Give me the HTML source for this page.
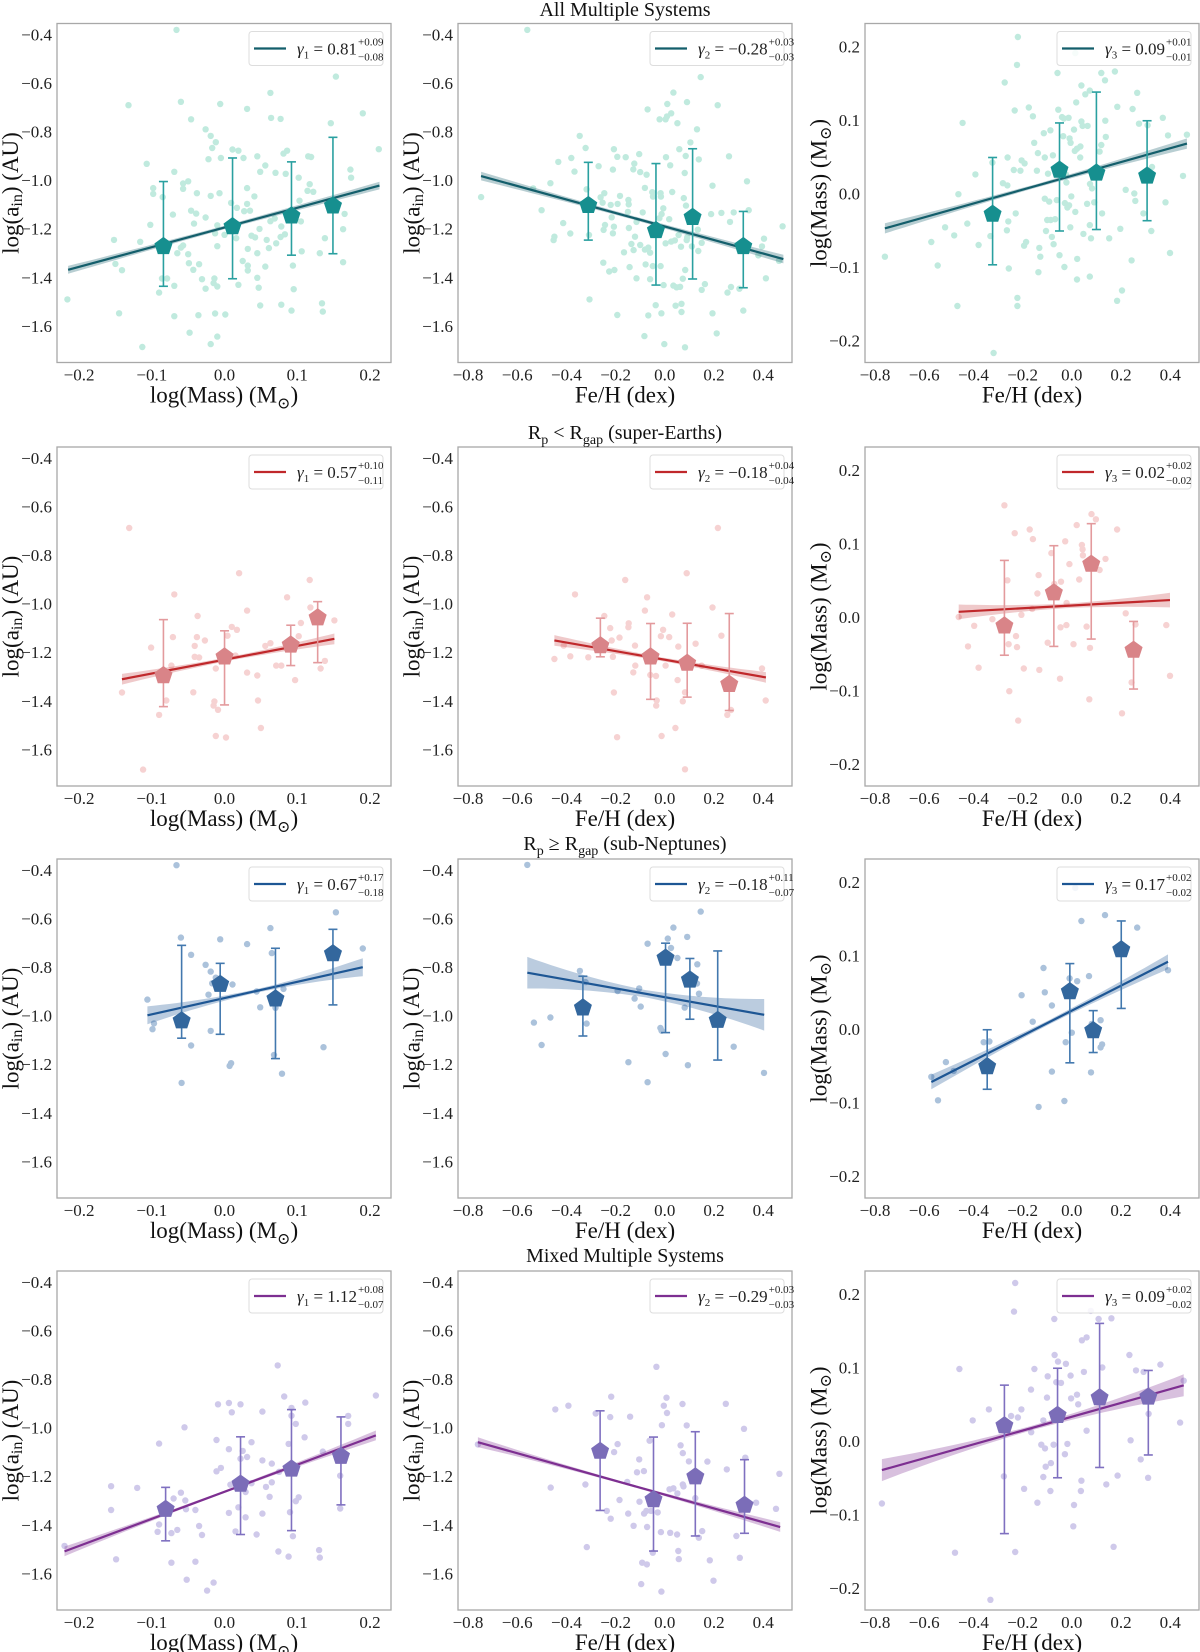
<!DOCTYPE html>
<html><head><meta charset="utf-8"><style>
html,body{margin:0;padding:0;background:#fff;}
svg{display:block;font-family:"Liberation Serif","DejaVu Serif",serif;}
svg text{font-family:"Liberation Serif","DejaVu Serif",serif;}
</style></head><body>
<svg id="fig" width="1200" height="1652" viewBox="0 0 1200 1652" xmlns="http://www.w3.org/2000/svg"></svg>
<script>
// ---------- DATA ----------
const pts_r1c1=[[-0.066,-0.382],[-0.132,-0.692],[-0.060,-0.678],[-0.006,-0.687],[0.031,-0.707],[0.063,-0.641],[0.153,-0.574],[0.064,-0.744],[0.077,-0.748],[-0.046,-0.750],[0.146,-0.766],[0.190,-0.725],[-0.026,-0.791],[-0.019,-0.818],[-0.012,-0.844],[-0.017,-0.868],[0.212,-0.873],[-0.107,-0.933],[-0.022,-0.914],[-0.005,-0.909],[0.011,-0.874],[0.019,-0.879],[0.026,-0.909],[0.045,-0.902],[0.056,-0.940],[0.081,-0.891],[0.086,-0.879],[0.115,-0.902],[0.119,-0.905],[0.173,-0.957],[0.174,-0.990],[-0.069,-0.966],[-0.098,-1.033],[-0.098,-1.057],[-0.057,-1.014],[-0.050,-1.005],[-0.057,-1.036],[-0.038,-1.054],[-0.019,-1.065],[-0.007,-1.054],[0.031,-1.033],[0.041,-1.067],[0.049,-0.966],[0.070,-0.970],[0.084,-0.974],[0.102,-0.990],[0.117,-1.017],[0.114,-1.044],[0.122,-1.048],[0.103,-1.085],[-0.085,-1.070],[-0.102,-1.184],[-0.071,-1.142],[-0.046,-1.126],[-0.039,-1.138],[-0.042,-1.179],[-0.026,-1.154],[-0.010,-1.186],[0.009,-1.094],[0.017,-1.114],[0.027,-1.128],[0.035,-1.126],[0.031,-1.098],[0.048,-1.201],[0.063,-1.169],[0.069,-1.158],[0.078,-1.191],[0.105,-1.170],[0.165,-1.139],[0.163,-1.202],[-0.152,-1.246],[-0.116,-1.254],[-0.057,-1.269],[-0.060,-1.278],[-0.065,-1.301],[-0.050,-1.305],[-0.013,-1.219],[-0.010,-1.272],[0.000,-1.225],[0.016,-1.239],[0.037,-1.229],[0.042,-1.236],[0.058,-1.246],[0.061,-1.280],[0.071,-1.260],[0.077,-1.234],[0.083,-1.223],[0.032,-1.283],[0.045,-1.301],[0.131,-1.301],[0.138,-1.239],[0.106,-1.293],[-0.150,-1.345],[-0.141,-1.371],[-0.049,-1.342],[-0.035,-1.346],[-0.043,-1.369],[-0.031,-1.408],[-0.014,-1.405],[-0.015,-1.424],[-0.010,-1.438],[0.025,-1.333],[0.032,-1.352],[0.032,-1.372],[0.056,-1.356],[0.045,-1.402],[0.047,-1.443],[0.094,-1.352],[0.095,-1.449],[0.163,-1.338],[-0.090,-1.463],[-0.086,-1.405],[-0.079,-1.405],[-0.069,-1.435],[0.019,-1.431],[-0.026,-1.447],[-0.216,-1.491],[-0.145,-1.548],[-0.069,-1.560],[-0.036,-1.556],[-0.013,-1.549],[0.001,-1.553],[0.049,-1.516],[0.078,-1.513],[0.092,-1.537],[0.134,-1.507],[0.135,-1.541],[-0.048,-1.628],[-0.010,-1.644],[-0.019,-1.675],[-0.113,-1.687]];
const bin_r1c1=[[-0.084,-1.273,-1.006,-1.437],[0.011,-1.191,-0.909,-1.406],[0.092,-1.147,-0.925,-1.309],[0.149,-1.106,-0.824,-1.303]];
const fit_r1c1=[0.81,-1.195,-0.215,0.213];

const pts_r1c2=[[-0.559,-0.382],[-0.747,-1.070],[-0.535,-1.034],[-0.465,-1.013],[-0.501,-1.124],[-0.433,-0.925],[-0.380,-0.909],[-0.346,-0.818],[-0.322,-0.868],[-0.367,-0.965],[-0.413,-1.177],[-0.449,-1.233],[-0.452,-1.247],[-0.384,-1.220],[-0.318,-1.038],[-0.308,-1.226],[-0.306,-1.491],[-0.269,-0.943],[-0.261,-1.071],[-0.246,-1.054],[-0.253,-1.093],[-0.243,-1.185],[-0.249,-1.205],[-0.220,-1.102],[-0.207,-0.873],[-0.193,-0.904],[-0.211,-0.957],[-0.192,-1.098],[-0.182,-1.065],[-0.216,-1.153],[-0.207,-1.192],[-0.211,-1.219],[-0.250,-1.340],[-0.226,-1.376],[-0.205,-1.370],[-0.193,-1.555],[-0.159,-0.906],[-0.124,-0.932],[-0.128,-0.956],[-0.104,-0.893],[-0.100,-0.967],[-0.074,-0.978],[-0.148,-1.082],[-0.147,-1.100],[-0.150,-1.131],[-0.146,-1.197],[-0.115,-1.172],[-0.121,-1.233],[-0.136,-1.263],[-0.166,-1.297],[-0.127,-1.288],[-0.143,-1.358],[-0.115,-1.404],[-0.090,-1.133],[-0.081,-1.032],[-0.081,-1.286],[-0.100,-1.267],[-0.078,-1.347],[-0.067,-1.278],[-0.060,-1.299],[-0.060,-1.408],[-0.070,-0.709],[-0.021,-0.750],[0.003,-0.750],[0.009,-0.738],[0.026,-0.725],[0.010,-0.687],[0.035,-0.640],[0.051,-0.766],[0.090,-0.679],[0.146,-0.576],[0.215,-0.692],[-0.051,-1.050],[-0.048,-1.068],[-0.017,-1.054],[-0.016,-1.068],[-0.013,-1.140],[-0.022,-1.157],[-0.006,-1.116],[-0.025,-1.211],[0.018,-1.161],[0.030,-1.049],[0.026,-1.253],[0.041,-1.248],[0.056,-1.226],[0.005,-0.906],[0.022,-0.939],[0.059,-0.873],[0.081,-0.971],[0.077,-1.074],[0.086,-1.105],[0.085,-0.901],[0.104,-0.845],[0.131,-0.791],[0.138,-0.915],[0.091,-1.236],[0.089,-1.247],[0.134,-1.204],[0.110,-1.273],[0.150,-1.258],[0.136,-1.292],[0.066,-1.274],[0.003,-1.260],[-0.049,-1.354],[-0.017,-1.354],[-0.005,-1.432],[-0.037,-1.515],[-0.067,-1.557],[-0.014,-1.548],[-0.083,-1.642],[-0.002,-1.675],[0.044,-1.517],[0.068,-1.509],[0.068,-1.543],[0.082,-1.688],[0.035,-1.434],[0.048,-1.441],[0.062,-1.439],[0.073,-1.406],[0.083,-1.370],[0.163,-1.428],[0.150,-1.452],[0.194,-1.548],[0.211,-1.631],[0.194,-1.023],[0.188,-1.140],[0.230,-1.135],[0.261,-0.902],[0.280,-1.133],[0.265,-1.172],[0.255,-1.463],[0.269,-1.440],[0.303,-1.447],[0.319,-1.537],[0.334,-1.005],[0.341,-1.124],[0.380,-1.310],[0.395,-1.273],[0.403,-1.241],[0.411,-1.404],[0.464,-1.332],[0.479,-1.190]];
const bin_r1c2=[[-0.311,-1.104,-0.927,-1.247],[-0.036,-1.207,-0.932,-1.432],[0.113,-1.153,-0.871,-1.407],[0.319,-1.273,-1.129,-1.443]];
const fit_r1c2=[-0.278,-1.191,-0.747,0.482];

const pts_r1c3=[[-0.219,0.213],[-0.223,0.175],[-0.273,0.151],[-0.444,0.096],[-0.232,0.113],[-0.175,0.117],[-0.158,0.105],[-0.058,0.164],[0.014,0.191],[0.120,0.164],[0.135,0.154],[0.175,0.166],[0.039,0.147],[0.055,0.135],[0.073,0.140],[0.018,0.124],[-0.055,0.114],[-0.040,0.104],[-0.013,0.103],[-0.032,0.102],[-0.087,0.086],[-0.114,0.082],[-0.035,0.078],[0.009,0.087],[0.039,0.098],[0.044,0.092],[0.064,0.092],[0.136,0.099],[0.185,0.118],[0.247,0.115],[0.266,0.137],[0.273,0.095],[0.370,0.103],[0.391,0.079],[0.468,0.080],[0.452,0.024],[0.381,-0.012],[0.399,-0.081],[0.243,-0.091],[0.204,-0.132],[0.184,-0.146],[-0.009,0.075],[-0.005,0.069],[0.021,0.061],[0.035,0.064],[0.012,0.058],[0.034,0.049],[0.120,0.066],[0.138,0.077],[0.113,0.057],[-0.153,0.069],[-0.138,0.055],[-0.110,0.049],[-0.077,0.052],[-0.097,0.027],[-0.142,0.031],[-0.204,0.045],[-0.192,0.041],[-0.209,0.031],[-0.236,0.032],[-0.261,0.049],[-0.323,0.042],[-0.392,0.026],[-0.280,0.014],[-0.262,0.011],[-0.461,-0.001],[-0.425,-0.041],[-0.515,-0.046],[-0.571,-0.066],[-0.545,-0.098],[-0.760,-0.086],[-0.478,-0.057],[-0.379,-0.070],[-0.331,-0.058],[-0.264,-0.050],[-0.258,-0.038],[-0.228,-0.027],[-0.194,-0.071],[-0.186,-0.066],[-0.132,-0.074],[-0.128,-0.086],[-0.136,-0.107],[-0.256,-0.102],[-0.221,-0.142],[-0.221,-0.153],[-0.465,-0.153],[-0.318,-0.217],[-0.110,-0.007],[-0.092,-0.011],[-0.061,-0.009],[-0.100,-0.036],[-0.086,-0.036],[-0.068,-0.035],[-0.105,-0.051],[-0.081,-0.059],[-0.074,-0.069],[-0.050,-0.084],[-0.030,-0.100],[-0.028,-0.013],[-0.018,-0.019],[-0.002,-0.004],[-0.011,-0.016],[0.014,-0.025],[0.022,-0.089],[0.021,-0.117],[-0.006,-0.046],[0.047,-0.055],[0.062,-0.014],[0.073,-0.043],[0.078,-0.061],[0.073,-0.113],[0.074,0.013],[0.082,0.007],[0.091,-0.012],[0.123,-0.027],[0.152,-0.061],[0.197,-0.048],[0.219,0.005],[0.254,0.000],[0.258,-0.010],[0.291,-0.027],[0.323,-0.051],[0.326,0.036],[0.308,0.093],[-0.024,0.026],[-0.022,0.015]];
const bin_r1c3=[[-0.322,-0.028,0.049,-0.097],[-0.050,0.032,0.096,-0.051],[0.100,0.028,0.138,-0.049],[0.306,0.024,0.099,-0.037]];
const fit_r1c3=[0.094,0.024,-0.760,0.468];

const pts_r2c1=[[-0.131,-0.689],[0.020,-0.875],[0.117,-0.903],[-0.069,-0.962],[0.086,-0.974],[0.031,-1.029],[-0.037,-1.051],[0.010,-1.096],[0.017,-1.108],[0.004,-1.132],[0.105,-1.080],[0.118,-1.016],[0.151,-1.069],[-0.071,-1.138],[-0.038,-1.138],[-0.027,-1.152],[-0.041,-1.174],[-0.101,-1.181],[-0.041,-1.219],[-0.035,-1.222],[0.056,-1.174],[0.063,-1.163],[0.102,-1.134],[0.015,-1.214],[-0.073,-1.255],[-0.012,-1.267],[0.071,-1.255],[0.078,-1.255],[0.138,-1.236],[0.132,-1.267],[0.031,-1.284],[0.045,-1.296],[0.097,-1.315],[-0.141,-1.366],[-0.043,-1.365],[-0.080,-1.399],[-0.014,-1.403],[-0.015,-1.420],[-0.009,-1.437],[0.046,-1.399],[-0.090,-1.458],[0.050,-1.512],[-0.012,-1.545],[0.002,-1.551],[-0.112,-1.683]];
const bin_r2c1=[[-0.084,-1.296,-1.066,-1.424],[0.000,-1.219,-1.112,-1.417],[0.091,-1.170,-1.089,-1.255],[0.128,-1.058,-0.992,-1.243]];
const fit_r2c1=[0.57,-1.231,-0.141,0.151];

const pts_r2c2=[[0.216,-0.689],[0.089,-0.875],[-0.161,-0.903],[-0.365,-0.962],[-0.072,-0.974],[0.194,-1.016],[-0.081,-1.029],[-0.246,-1.051],[0.030,-1.045],[-0.147,-1.081],[-0.148,-1.097],[-0.222,-1.101],[-0.184,-1.140],[-0.216,-1.152],[-0.007,-1.108],[-0.016,-1.134],[0.018,-1.138],[0.230,-1.132],[0.125,-1.165],[-0.411,-1.173],[-0.121,-1.173],[0.055,-1.177],[-0.449,-1.228],[-0.384,-1.217],[-0.311,-1.221],[-0.211,-1.219],[-0.120,-1.255],[-0.128,-1.283],[0.003,-1.255],[0.150,-1.255],[-0.059,-1.294],[-0.036,-1.298],[0.052,-1.315],[0.395,-1.267],[-0.207,-1.366],[0.082,-1.365],[-0.033,-1.399],[-0.035,-1.420],[0.073,-1.402],[0.410,-1.399],[0.269,-1.438],[0.254,-1.458],[0.043,-1.512],[-0.194,-1.550],[-0.013,-1.545],[0.082,-1.682]];
const bin_r2c2=[[-0.262,-1.173,-1.060,-1.219],[-0.058,-1.219,-1.082,-1.394],[0.091,-1.245,-1.081,-1.385],[0.262,-1.332,-1.041,-1.440]];
const fit_r2c2=[-0.177,-1.231,-0.449,0.411];

const pts_r2c3=[[-0.274,0.152],[-0.232,0.114],[-0.171,0.119],[-0.158,0.106],[0.020,0.125],[0.080,0.140],[0.098,0.133],[0.184,0.119],[-0.027,0.103],[-0.083,0.087],[0.041,0.098],[0.044,0.092],[0.045,0.084],[-0.010,0.072],[0.137,0.079],[-0.262,0.050],[-0.135,0.057],[-0.071,0.045],[-0.044,0.048],[0.030,0.051],[0.113,0.064],[-0.140,0.032],[-0.021,0.019],[-0.161,0.011],[-0.205,0.003],[-0.323,-0.003],[-0.460,0.000],[-0.397,-0.012],[0.219,0.005],[0.259,-0.010],[0.384,-0.011],[-0.046,-0.014],[-0.022,-0.011],[0.060,-0.013],[-0.227,-0.026],[-0.257,-0.037],[-0.223,-0.041],[-0.098,-0.035],[0.007,-0.037],[0.074,-0.042],[-0.422,-0.040],[-0.379,-0.069],[-0.195,-0.070],[-0.132,-0.072],[-0.048,-0.084],[0.243,-0.089],[0.399,-0.080],[-0.254,-0.101],[0.071,-0.112],[-0.218,-0.141],[0.204,-0.131]];
const bin_r2c3=[[-0.274,-0.012,0.077,-0.052],[-0.073,0.033,0.097,-0.040],[0.079,0.072,0.127,-0.030],[0.251,-0.045,-0.006,-0.098]];
const fit_r2c3=[0.0186,0.0156,-0.460,0.399];

const pts_r3c1=[[-0.066,-0.381],[0.153,-0.575],[0.063,-0.640],[-0.060,-0.679],[-0.006,-0.686],[0.031,-0.706],[0.190,-0.724],[0.065,-0.743],[-0.046,-0.750],[-0.026,-0.791],[-0.019,-0.819],[-0.012,-0.844],[-0.017,-0.867],[0.011,-0.872],[-0.022,-0.914],[0.044,-0.901],[0.081,-0.890],[0.049,-0.966],[-0.106,-0.934],[0.070,-0.968],[-0.097,-1.032],[-0.099,-1.056],[-0.019,-1.063],[-0.046,-1.123],[0.136,-1.130],[0.068,-1.162],[0.009,-1.196],[0.007,-1.207],[0.079,-1.239],[-0.059,-1.277]];
const bin_r3c1=[[-0.059,-1.021,-0.711,-1.093],[-0.006,-0.871,-0.785,-1.077],[0.070,-0.931,-0.723,-1.177],[0.149,-0.745,-0.645,-0.956]];
const fit_r3c1=[0.67,-0.928,-0.106,0.190];

const pts_r3c2=[[-0.559,-0.380],[0.146,-0.572],[0.035,-0.638],[0.012,-0.683],[0.091,-0.676],[-0.070,-0.704],[0.025,-0.722],[0.051,-0.763],[0.132,-0.789],[-0.345,-0.816],[-0.322,-0.862],[0.131,-0.868],[-0.104,-0.888],[-0.192,-0.899],[0.139,-0.910],[-0.123,-0.930],[-0.098,-0.963],[0.081,-0.967],[-0.532,-1.029],[-0.465,-1.008],[-0.318,-1.033],[-0.018,-1.051],[-0.013,-1.062],[-0.501,-1.121],[0.280,-1.128],[0.003,-1.158],[-0.148,-1.192],[0.094,-1.204],[-0.070,-1.274],[0.403,-1.236]];
const bin_r3c2=[[-0.333,-0.968,-0.838,-1.084],[0.003,-0.763,-0.702,-1.070],[0.102,-0.853,-0.765,-1.015],[0.215,-1.019,-0.734,-1.183]];
const fit_r3c2=[-0.18,-0.924,-0.559,0.404];

const pts_r3c3=[[0.014,0.192],[0.039,0.147],[0.135,0.155],[0.266,0.138],[-0.115,0.083],[0.022,0.065],[0.070,0.072],[-0.009,0.069],[0.391,0.080],[-0.204,0.046],[-0.110,0.050],[-0.081,0.032],[-0.159,0.010],[0.117,0.012],[0.081,0.007],[0.000,-0.005],[-0.025,-0.018],[-0.358,-0.018],[-0.335,-0.017],[0.123,-0.021],[0.117,-0.025],[-0.512,-0.045],[-0.480,-0.057],[-0.571,-0.065],[-0.544,-0.097],[-0.081,-0.058],[0.078,-0.059],[-0.030,-0.098],[-0.135,-0.106]];
const bin_r3c3=[[-0.344,-0.051,-0.001,-0.082],[-0.008,0.051,0.089,-0.046],[0.087,-0.002,0.025,-0.032],[0.201,0.108,0.147,0.028]];
const fit_r3c3=[0.170,0.025,-0.571,0.391];

const pts_r4c1=[[0.073,-0.744],[0.208,-0.868],[0.082,-0.872],[0.111,-0.897],[-0.009,-0.904],[0.006,-0.899],[0.022,-0.904],[0.010,-0.937],[0.052,-0.934],[0.092,-0.919],[0.092,-0.951],[0.170,-0.952],[0.170,-0.985],[0.098,-0.985],[-0.055,-0.999],[-0.090,-1.066],[-0.011,-1.051],[0.037,-1.060],[0.088,-1.067],[0.110,-1.040],[0.006,-1.089],[0.025,-1.096],[0.022,-1.128],[0.031,-1.121],[0.052,-1.135],[0.065,-1.148],[0.135,-1.099],[-0.011,-1.180],[-0.005,-1.166],[0.075,-1.182],[-0.156,-1.241],[-0.120,-1.248],[0.008,-1.235],[0.037,-1.229],[0.057,-1.244],[0.065,-1.225],[0.029,-1.265],[0.062,-1.285],[0.102,-1.287],[0.098,-1.303],[-0.070,-1.292],[-0.060,-1.268],[-0.054,-1.300],[-0.040,-1.339],[-0.053,-1.336],[-0.156,-1.339],[0.019,-1.328],[0.006,-1.351],[0.029,-1.369],[0.052,-1.354],[0.090,-1.348],[0.159,-1.198],[0.159,-1.333],[-0.090,-1.399],[-0.092,-1.429],[-0.073,-1.434],[-0.065,-1.421],[-0.035,-1.405],[-0.031,-1.442],[0.015,-1.427],[0.044,-1.440],[0.094,-1.447],[-0.220,-1.487],[-0.149,-1.542],[-0.073,-1.556],[-0.040,-1.552],[0.074,-1.510],[0.088,-1.531],[0.130,-1.504],[0.131,-1.535],[-0.052,-1.626],[-0.015,-1.638],[-0.024,-1.671]];
const bin_r4c1=[[-0.081,-1.336,-1.246,-1.466],[0.022,-1.232,-1.038,-1.440],[0.092,-1.170,-0.926,-1.424],[0.160,-1.118,-0.956,-1.318]];
const fit_r4c1=[1.115,-1.264,-0.220,0.208];

const pts_r4c2=[[-0.034,-0.750],[-0.445,-0.925],[-0.392,-0.910],[-0.218,-0.873],[-0.281,-0.942],[-0.222,-0.957],[-0.141,-0.955],[-0.004,-0.910],[0.007,-0.877],[0.009,-0.940],[-0.012,-0.990],[0.072,-0.903],[0.089,-0.991],[0.248,-0.902],[0.322,-1.005],[-0.192,-1.068],[-0.206,-1.101],[-0.062,-1.054],[0.064,-1.073],[0.073,-1.105],[0.098,-1.139],[0.173,-1.140],[-0.104,-1.131],[-0.085,-1.179],[-0.113,-1.184],[0.252,-1.172],[0.327,-1.124],[0.466,-1.190],[-0.464,-1.247],[-0.323,-1.234],[-0.153,-1.224],[-0.184,-1.298],[0.019,-1.254],[0.035,-1.250],[0.073,-1.234],[0.076,-1.242],[0.051,-1.271],[0.124,-1.290],[-0.103,-1.305],[-0.075,-1.343],[-0.084,-1.354],[-0.056,-1.343],[-0.029,-1.349],[0.371,-1.309],[0.452,-1.334],[-0.220,-1.375],[-0.149,-1.354],[-0.236,-1.343],[-0.127,-1.404],[-0.072,-1.409],[-0.016,-1.430],[0.022,-1.433],[0.050,-1.440],[0.152,-1.426],[0.138,-1.453],[0.291,-1.446],[-0.317,-1.492],[-0.049,-1.515],[0.055,-1.508],[0.057,-1.541],[0.183,-1.546],[0.305,-1.536],[-0.092,-1.556],[-0.073,-1.563],[-0.096,-1.644],[0.198,-1.630],[-0.014,-1.675],[-0.760,-1.069]];
const bin_r4c2=[[-0.263,-1.097,-0.931,-1.341],[-0.046,-1.296,-1.039,-1.508],[0.124,-1.202,-1.017,-1.446],[0.324,-1.319,-1.132,-1.435]];
const fit_r4c2=[-0.284,-1.276,-0.760,0.469];

const pts_r4c3=[[-0.230,0.215],[-0.235,0.176],[-0.071,0.166],[0.077,0.177],[0.109,0.166],[0.161,0.167],[0.041,0.137],[0.060,0.141],[-0.070,0.117],[-0.056,0.108],[-0.024,0.105],[0.234,0.117],[0.360,0.104],[-0.457,0.098],[-0.152,0.098],[0.124,0.100],[0.261,0.096],[0.292,0.094],[0.049,0.094],[-0.098,0.088],[-0.005,0.089],[-0.063,0.080],[-0.044,0.079],[-0.166,0.070],[0.455,0.082],[0.021,0.063],[-0.003,0.058],[-0.101,0.059],[0.026,0.050],[-0.337,0.043],[-0.205,0.043],[-0.247,0.034],[-0.219,0.032],[-0.403,0.028],[-0.116,0.028],[0.312,0.037],[0.440,0.025],[-0.165,0.012],[0.060,0.014],[-0.124,-0.005],[-0.109,-0.010],[-0.074,-0.005],[-0.018,-0.004],[-0.028,-0.018],[0.239,0.001],[0.280,-0.025],[-0.106,-0.035],[-0.085,-0.030],[-0.276,-0.048],[-0.116,-0.049],[0.039,-0.054],[0.186,-0.047],[0.310,-0.050],[-0.194,-0.065],[-0.087,-0.068],[0.037,-0.068],[0.140,-0.059],[-0.140,-0.084],[0.009,-0.087],[-0.772,-0.085],[0.006,-0.116],[0.170,-0.144],[-0.475,-0.152],[-0.230,-0.151],[-0.331,-0.216]];
const bin_r4c3=[[-0.274,0.021,0.076,-0.126],[-0.058,0.035,0.099,-0.050],[0.113,0.059,0.160,-0.036],[0.311,0.060,0.096,-0.019]];
const fit_r4c3=[0.094,0.033,-0.772,0.455];

const xticks_mass=["−0.2","−0.1","0.0","0.1","0.2"];
const xtickv_mass=[-0.2,-0.1,0,0.1,0.2];
const xticks_feh=["−0.8","−0.6","−0.4","−0.2","0.0","0.2","0.4"];
const xtickv_feh=[-0.8,-0.6,-0.4,-0.2,0,0.2,0.4];
const yticks_a=["−0.4","−0.6","−0.8","−1.0","−1.2","−1.4","−1.6"];
const ytickv_a=[-0.4,-0.6,-0.8,-1.0,-1.2,-1.4,-1.6];
const yticks_m=["0.2","0.1","0.0","−0.1","−0.2"];
const ytickv_m=[0.2,0.1,0,-0.1,-0.2];
const legendVals=[["0.81","+0.09","−0.08"],["−0.28","+0.03","−0.03"],["0.09","+0.01","−0.01"],
 ["0.57","+0.10","−0.11"],["−0.18","+0.04","−0.04"],["0.02","+0.02","−0.02"],
 ["0.67","+0.17","−0.18"],["−0.18","+0.11","−0.07"],["0.17","+0.02","−0.02"],
 ["1.12","+0.08","−0.07"],["−0.29","+0.03","−0.03"],["0.09","+0.02","−0.02"]];
const bandW=[[0.012,0.004],[0.012,0.006],[0.004,0.003],[0.012,0.010],[0.012,0.010],[0.005,0.005],[0.012,0.025],[0.025,0.040],[0.005,0.005],[0.008,0.012],[0.008,0.012],[0.005,0.010]];

// ---------- LAYOUT ----------
const colL=[57,458,865], rowT=[23.5,447,859,1271], PW=334, PH=339;
const themes=[
 {pt:"#c0eade",line:"#135e6b",pent:"#168f8f",err:"#2aa0a0",band:"rgba(19,94,107,0.3)"},
 {pt:"#f6d2d2",line:"#c0282b",pent:"#d98488",err:"#e39a9d",band:"rgba(192,40,43,0.25)"},
 {pt:"#abc2db",line:"#1d5694",pent:"#33679d",err:"#4278ae",band:"rgba(29,86,148,0.3)"},
 {pt:"#cfc9ea",line:"#7d2f91",pent:"#7b6db8",err:"#7f70c0",band:"rgba(125,47,145,0.3)"}];
const NS="http://www.w3.org/2000/svg";
const svg=document.getElementById('fig');
function mk(tag,attrs,parent){const e=document.createElementNS(NS,tag);for(const k in attrs)e.setAttribute(k,attrs[k]);(parent||svg).appendChild(e);return e;}
function xScale(c){ if(c===0) return v=>colL[0]+(v+0.2303)*727.5; return v=>colL[c]+(v+0.8407)*246; }
function yScale(r,c){ if(c<2) return v=>rowT[r]+(-0.3556-v)*243; return v=>rowT[r]+(0.2313-v)*735; }

const allPts=[[pts_r1c1,pts_r1c2,pts_r1c3],[pts_r2c1,pts_r2c2,pts_r2c3],[pts_r3c1,pts_r3c2,pts_r3c3],[pts_r4c1,pts_r4c2,pts_r4c3]];
const allBins=[[bin_r1c1,bin_r1c2,bin_r1c3],[bin_r2c1,bin_r2c2,bin_r2c3],[bin_r3c1,bin_r3c2,bin_r3c3],[bin_r4c1,bin_r4c2,bin_r4c3]];
const allFits=[[fit_r1c1,fit_r1c2,fit_r1c3],[fit_r2c1,fit_r2c2,fit_r2c3],[fit_r3c1,fit_r3c2,fit_r3c3],[fit_r4c1,fit_r4c2,fit_r4c3]];

for(let r=0;r<4;r++){for(let c=0;c<3;c++){
 const th=themes[r], X=xScale(c), Y=yScale(r,c), L=colL[c], T=rowT[r];
 const g=mk('g',{});
 
 
 const cp='clip'+r+c;
 const cl=mk('clipPath',{id:cp},g); mk('rect',{x:L,y:T,width:PW,height:PH},cl);
 const inner=mk('g',{'clip-path':'url(#'+cp+')'},g);
 for(const p of allPts[r][c]){
  const d=mk('circle',{cx:X(p[0]).toFixed(1),cy:Y(p[1]).toFixed(1),r:3.2,fill:th.pt},inner);
  
  
 }
 const f=allFits[r][c], bw=bandW[r*3+c], xm=(f[2]+f[3])/2, half=(f[3]-f[2])/2;
 const n=30, up=[], dn=[];
 for(let i=0;i<=n;i++){const xv=f[2]+(f[3]-f[2])*i/n; const t=(xv-xm)/half; const w=bw[0]*0.6+bw[1]*t*t+bw[0]*0.4*Math.abs(t);
  const yv=f[1]+f[0]*xv; up.push(X(xv).toFixed(1)+','+Y(yv+w).toFixed(1)); dn.unshift(X(xv).toFixed(1)+','+Y(yv-w).toFixed(1));}
 const band=mk('polygon',{points:up.concat(dn).join(' '),fill:th.band},inner);
 
 
 const ln=mk('line',{x1:X(f[2]),y1:Y(f[1]+f[0]*f[2]),x2:X(f[3]),y2:Y(f[1]+f[0]*f[3]),stroke:th.line,'stroke-width':2.2},inner);
 
 
 for(const b of allBins[r][c]){
  const bx=X(b[0]), by=Y(b[1]), y1=Y(b[2]), y2=Y(b[3]);
  const eg=mk('g',{stroke:th.err,'stroke-width':1.6},inner);
  
  
  mk('line',{x1:bx,y1:y1,x2:bx,y2:y2},eg);
  mk('line',{x1:bx-4.5,y1:y1,x2:bx+4.5,y2:y1},eg);
  mk('line',{x1:bx-4.5,y1:y2,x2:bx+4.5,y2:y2},eg);
  const pp=[];for(let k=0;k<5;k++){const a=-Math.PI/2+k*2*Math.PI/5;pp.push((bx+9.5*Math.cos(a)).toFixed(1)+','+(by+9.5*Math.sin(a)).toFixed(1));}
  const pg=mk('polygon',{points:pp.join(' '),fill:th.pent},inner);
  
  
 }
 const fr=mk('rect',{x:L,y:T,width:PW,height:PH,fill:'none',stroke:'#a8a8a8','stroke-width':1.3},g);
 
 
 const xv=c===0?xtickv_mass:xtickv_feh, xl=c===0?xticks_mass:xticks_feh;
 for(let i=0;i<xv.length;i++){const t=mk('text',{x:X(xv[i]),y:T+PH+18,'text-anchor':'middle','font-size':17,fill:'#222'},g);t.textContent=xl[i];
  
  }
 const yv=c<2?ytickv_a:ytickv_m, yl=c<2?yticks_a:yticks_m;
 for(let i=0;i<yv.length;i++){const t=mk('text',{x:L-5,y:Y(yv[i])+6,'text-anchor':'end','font-size':17,fill:'#222'},g);t.textContent=yl[i];
  
  }
 const xt=mk('text',{x:L+PW/2,y:T+PH+40,'text-anchor':'middle','font-size':23,fill:'#111'},g);
 
 
 if(c===0){xt.innerHTML='log(Mass) (M<tspan font-size="16" dy="6">⊙</tspan><tspan dy="-6">)</tspan>';} else xt.textContent='Fe/H (dex)';
 const yx=L-44, yy=T+PH/2;
 const yt=mk('text',{x:yx,y:yy,transform:'rotate(-90 '+yx+' '+yy+')','text-anchor':'middle','dominant-baseline':'middle','font-size':23,fill:'#111'},g);
 
 
 if(c<2) yt.innerHTML='log(a<tspan font-size="16" dy="5">in</tspan><tspan dy="-5">) (AU)</tspan>';
 else yt.innerHTML='log(Mass) (M<tspan font-size="16" dy="6">⊙</tspan><tspan dy="-6">)</tspan>';
 const lv=legendVals[r*3+c], lx=L+PW-142, ly=T+8;
 const lg=mk('g',{},g);
 
 
 mk('rect',{x:lx,y:ly,width:134,height:34,rx:3,fill:'#fff','fill-opacity':0.85,stroke:'#dddddd','stroke-width':1},lg);
 mk('line',{x1:lx+5,y1:ly+17,x2:lx+37,y2:ly+17,stroke:th.line,'stroke-width':2.2},lg);
 const lt=mk('text',{x:lx+48,y:ly+23,'font-size':17,fill:'#222'},lg);
 lt.innerHTML='<tspan font-style="italic">γ</tspan><tspan font-size="11" dy="4">'+(c+1)+'</tspan><tspan dy="-4"> = '+lv[0]+'</tspan>';
 const w=lt.getComputedTextLength();
 const s1=mk('text',{x:lx+48+w+1,y:ly+14,'font-size':11,fill:'#222'},lg);s1.textContent=lv[1];
 const s2=mk('text',{x:lx+48+w+1,y:ly+29,'font-size':11,fill:'#222'},lg);s2.textContent=lv[2];
}}
const titles=['All Multiple Systems','R<tspan font-size="14" dy="5">p</tspan><tspan dy="-5"> &lt; R</tspan><tspan font-size="14" dy="5">gap</tspan><tspan dy="-5"> (super-Earths)</tspan>','R<tspan font-size="14" dy="5">p</tspan><tspan dy="-5"> ≥ R</tspan><tspan font-size="14" dy="5">gap</tspan><tspan dy="-5"> (sub-Neptunes)</tspan>','Mixed Multiple Systems'];
const titleY=[16,439,850,1262];
for(let i=0;i<4;i++){const t=mk('text',{x:625,y:titleY[i],'text-anchor':'middle','font-size':20,fill:'#111'});t.innerHTML=titles[i];
 
 }
</script>
</body></html>
